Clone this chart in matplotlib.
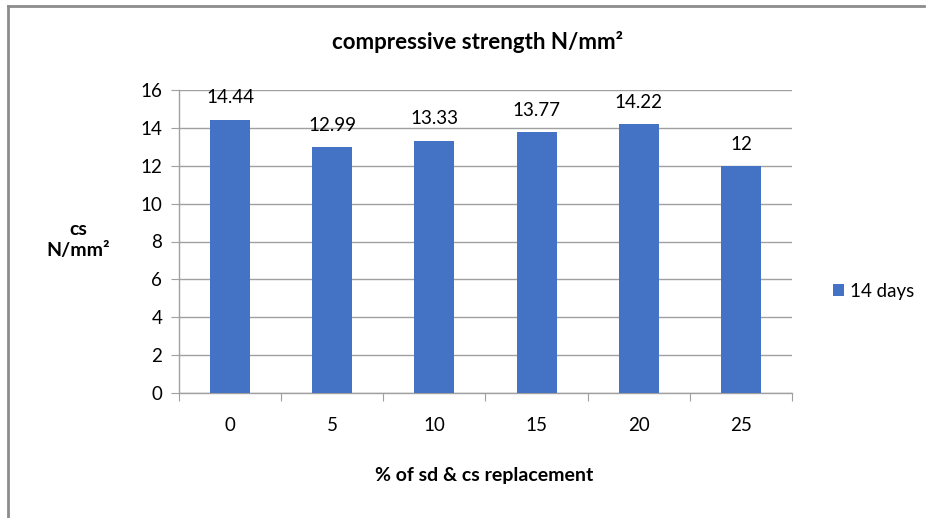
import matplotlib
matplotlib.use("Agg")
import matplotlib.pyplot as plt
from matplotlib.lines import Line2D

plt.rcParams["font.family"] = ["Lato", "DejaVu Sans"]

replacement = ["0", "5", "10", "15", "20", "25"]
strength_14d = [14.44, 12.99, 13.33, 13.77, 14.22, 12]
value_labels = ["14.44", "12.99", "13.33", "13.77", "14.22", "12"]
y_ticks = [0, 2, 4, 6, 8, 10, 12, 14, 16]

W, H = 933, 518
fig = plt.figure(figsize=(W / 100, H / 100), dpi=100)
ax = fig.add_axes([179 / W, 1 - 393 / H, (792 - 179) / W, (393 - 90) / H])

bar_color = "#4472C4"
x = list(range(len(replacement)))
bars = ax.bar(x, strength_14d, width=0.39, color=bar_color, label="14 days", zorder=3)

for rect, txt in zip(bars, value_labels):
    ax.annotate(txt, (rect.get_x() + rect.get_width() / 2, rect.get_height()),
                xytext=(0, 9.5), textcoords="offset points",
                ha="center", va="bottom", fontsize=13.5)

ax.set_xlim(-0.5, len(replacement) - 0.5)
ax.set_ylim(0, 16)
ax.set_yticks(y_ticks)
# category boundaries carry the tick marks, centres carry the labels
ax.set_xticks([i + 0.5 for i in range(-1, len(replacement))])
ax.set_xticklabels([])
ax.set_xticks(x, minor=True)
ax.set_xticklabels(replacement, minor=True)
ax.tick_params(axis="x", which="major", direction="out", length=6, color="#a0a0a0")
ax.tick_params(axis="x", which="minor", length=0, pad=17, labelsize=13.5)
ax.tick_params(axis="y", direction="out", length=6, color="#a0a0a0", labelsize=13.5, pad=6)

ax.grid(axis="y", color="#a0a0a0", linewidth=1, zorder=0)
for s in ["top", "right"]:
    ax.spines[s].set_visible(False)
for s in ["left", "bottom"]:
    ax.spines[s].set_color("#a0a0a0")
    ax.spines[s].set_linewidth(1)

fig.text(478 / W, 1 - 42 / H, "compressive strength N/mm²", ha="center", va="center",
         fontsize=16, fontweight="bold")
fig.text(78 / W, 1 - 240 / H, "cs\nN/mm²", ha="center", va="center",
         fontsize=14, fontweight="bold", linespacing=1.25)
fig.text(484 / W, 1 - 475 / H, "% of sd & cs replacement", ha="center", va="center",
         fontsize=14, fontweight="bold")

fig.legend(handles=[bars], labels=["14 days"], loc="center left",
           bbox_to_anchor=(816 / W, 1 - 291 / H), frameon=False, fontsize=13.5,
           handlelength=0.6, handleheight=0.6, handletextpad=0.3)

# chart area frame
fig.add_artist(Line2D([8 / W, 8 / W], [0, 1 - 6 / H], transform=fig.transFigure,
                      color="#8c8c8c", linewidth=2))
fig.add_artist(Line2D([8 / W, 924 / W], [1 - 6 / H, 1 - 6 / H], transform=fig.transFigure,
                      color="#8c8c8c", linewidth=2))

fig.savefig("out.png", dpi=100)
